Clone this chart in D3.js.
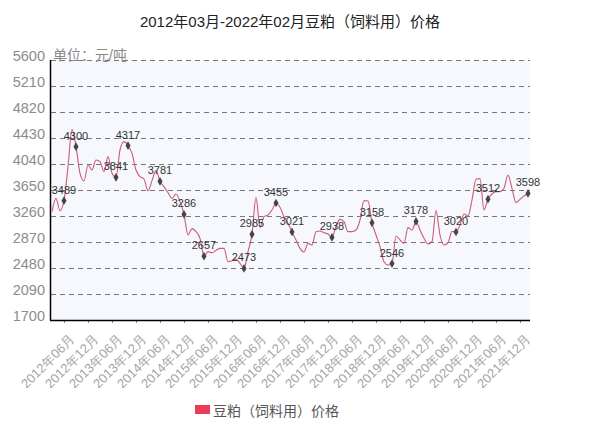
<!DOCTYPE html>
<html><head><meta charset="utf-8">
<script src="https://cdn.jsdelivr.net/npm/d3@7"></script>
<style>
html,body{margin:0;padding:0;background:#fff;}
svg{display:block;font-family:"Liberation Sans","Noto Sans CJK SC",sans-serif;}
</style></head>
<body><svg id="c" width="612" height="436"></svg>
<script>
const title = "2012年03月-2022年02月豆粕（饲料用）价格";
const unitLabel = "单位：元/吨";
const seriesName = "豆粕（饲料用）价格";
const yTicks = [1700, 2090, 2480, 2870, 3260, 3650, 4040, 4430, 4820, 5210, 5600];
const tickLabels = ["2012年06月","2012年12月","2013年06月","2013年12月","2014年06月","2014年12月","2015年06月","2015年12月","2016年06月","2016年12月","2017年06月","2017年12月","2018年06月","2018年12月","2019年06月","2019年12月","2020年06月","2020年12月","2021年06月","2021年12月"];
// monthly prices 2012-03 .. 2022-02
const prices = [
 3325,3525,3340,3489,4000,4560,4300,3900,3785,4025,3950,4100,
 4075,3925,4150,3900,3841,4250,4375,4317,4200,3950,3850,3815,
 3635,3790,3940,3781,3700,3610,3525,3590,3475,3286,2975,3070,
 3025,2925,2657,2725,2710,2745,2775,2775,2575,2590,2610,2550,
 2473,2725,2985,3540,3090,3250,3275,3350,3455,3390,3250,3150,
 3021,2900,2775,2720,2850,2825,3025,3035,3010,2990,2938,3100,
 3210,3175,3025,3025,3050,3200,3490,3485,3158,2975,2800,2575,
 2525,2546,2960,2900,2850,3085,3050,3178,3050,2925,2840,2875,
 3340,2975,2825,2860,3030,3020,3125,3290,3260,3500,3810,3820,
 3350,3512,3590,3625,3625,3675,3875,3675,3460,3510,3560,3598];
// indices of months whose value is labelled
const labelled = [3,6,16,19,27,33,38,48,50,56,60,70,80,85,91,101,109,119];

const months = d3.timeMonth.range(new Date(2012,2,1), new Date(2022,2,1));
const fmt = d3.timeFormat("%Y年%m月");
const cats = months.map(fmt);
const data = cats.map((c,i)=>({c, v: prices[i]}));

const svg = d3.select("#c");
const L=50, R=530, T=60, B=320;
const x = d3.scalePoint().domain(cats).range([52, 528]);
const y = d3.scaleLinear().domain([1700, 5600]).range([B, T]);

// background
svg.append("rect").attr("x",L).attr("y",T).attr("width",R-L).attr("height",B-T).attr("fill","#f6f8fd");

// title
svg.append("text").attr("x",290).attr("y",27).attr("text-anchor","middle")
  .attr("font-size",15).attr("fill","#222").text(title);

// grid
svg.append("g").selectAll("line").data(yTicks.slice(1)).join("line")
  .attr("x1",L+1).attr("x2",R).attr("y1",d=>Math.round(y(d))+0.5).attr("y2",d=>Math.round(y(d))+0.5)
  .attr("stroke","#777").attr("stroke-dasharray","5,4").attr("stroke-width",1);

// y axis
const yAxis = d3.axisLeft(y).tickValues(yTicks).tickFormat(d3.format("d")).tickSize(0).tickPadding(5);
const gy = svg.append("g").attr("transform",`translate(${L},0)`).call(yAxis);
gy.select(".domain").remove();
gy.selectAll("text").attr("font-size",14.5).attr("fill","#8c8c8c").attr("dy","0")
  .attr("font-family","Liberation Sans, sans-serif");

svg.append("text").attr("x",L+3).attr("y",T).attr("font-size",14).attr("fill","#888").text(unitLabel);

// x axis
const xAxis = d3.axisBottom(x).tickValues(tickLabels).tickSize(3).tickPadding(4);
const gx = svg.append("g").attr("transform",`translate(0,${B})`).call(xAxis);
gx.select(".domain").remove();
gx.selectAll(".tick line").attr("stroke","#888");
gx.selectAll("text").attr("font-size",13).attr("fill","#a6a6a6")
  .attr("text-anchor","end").attr("dy","0")
  .attr("transform","translate(6,15) rotate(-45)");

// axis lines
svg.append("line").attr("x1",L+0.5).attr("x2",L+0.5).attr("y1",T).attr("y2",B+0.5).attr("stroke","#000").attr("stroke-width",1.5);
svg.append("line").attr("x1",L).attr("x2",R).attr("y1",B+0.5).attr("y2",B+0.5).attr("stroke","#000").attr("stroke-width",1.5);

// line
const line = d3.line().x(d=>x(d.c)).y(d=>y(d.v)).curve(d3.curveMonotoneX);
svg.append("path").datum(data).attr("d",line).attr("fill","none")
  .attr("stroke","#cc5a78").attr("stroke-width",1.1);

// markers & labels
const lab = labelled.map(i=>data[i]);
svg.append("g").selectAll("path").data(lab).join("path")
  .attr("d", d3.symbol().type(d3.symbolDiamond).size(22))
  .attr("transform",d=>`translate(${x(d.c)},${y(d.v)})`)
  .attr("fill","#444");
svg.append("g").selectAll("text").data(lab).join("text")
  .attr("x",d=>x(d.c)).attr("y",d=>y(d.v)-7).attr("text-anchor","middle")
  .attr("font-size",11).attr("fill","#333").text(d=>d.v);

// legend
svg.append("rect").attr("x",195).attr("y",405).attr("width",15).attr("height",9).attr("fill","#ea3c58");
svg.append("text").attr("x",213).attr("y",416).attr("font-size",14).attr("fill","#555").text(seriesName);
</script></body></html>
